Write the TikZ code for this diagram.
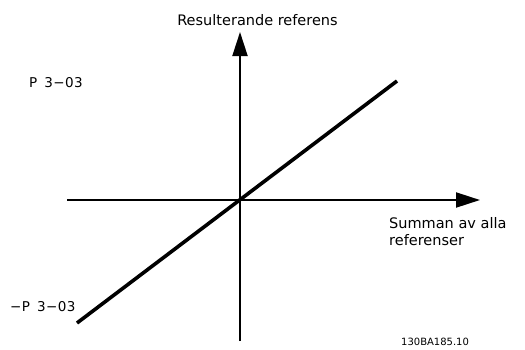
\documentclass[tikz,border=0pt]{standalone}
\usepackage{fontspec}
\setmainfont{DejaVu Sans}
\newfontfamily\pfont[LetterSpace=3]{DejaVu Sans}
\usetikzlibrary{arrows.meta}
\begin{document}
\begin{tikzpicture}[x=1pt,y=-1pt,
  axis/.style={line width=2pt,-{Triangle[length=24pt,width=15pt]}},
  curve/.style={line width=3.6pt},
  lbl/.style={inner sep=0pt,font=\fontsize{14.5}{17}\selectfont},
  plbl/.style={inner sep=0pt,anchor=west,font=\pfont\fontsize{13.5}{15}\selectfont},
  code/.style={inner sep=0pt,anchor=west,font=\fontsize{10}{12}\selectfont}]
\useasboundingbox (0,0) rectangle (525,349);
\coordinate (o) at (240,200);
\coordinate (ybot) at (240,341);
\coordinate (ytop) at (240,32);
\coordinate (xl) at (67,200);
\coordinate (xr) at (480,200);
\coordinate (lo) at (77,323);
\coordinate (hi) at (397,81);
\draw[axis] (ybot) -- (ytop);
\draw[axis] (xl) -- (xr);
\draw[curve] (lo) -- (hi);
\node[lbl] (yl) at (257.5,20) {Resulterande referens};
\node[lbl,anchor=west,align=left] (xlb) at (389,231.5) {Summan av alla\\referenser};
\node[plbl] (pmax) at (29,83) {P\hspace{7pt}3−03};
\node[plbl] (pmin) at (10,307) {−P\hspace{7pt}3−03};
\node[code] (id) at (401,342) {130BA185.10};
\end{tikzpicture}
\end{document}
